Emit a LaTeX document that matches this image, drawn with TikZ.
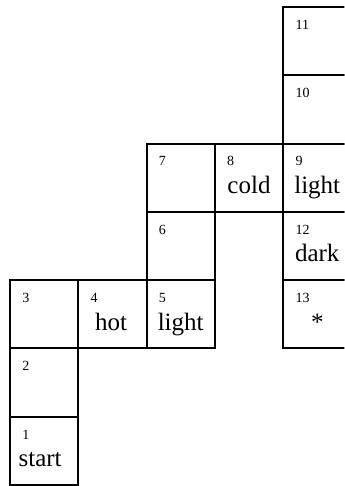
\documentclass[tikz,border=0pt]{standalone}
\usepackage{fontspec}
\setmainfont{Liberation Serif}
\usetikzlibrary{positioning}
\tikzset{
  cell/.style={draw,line width=1pt,minimum size=1.2cm,inner sep=0pt,outer sep=0pt},
  num/.style={font=\fontsize{7}{8}\selectfont,inner sep=0pt,anchor=base west},
  word/.style={font=\fontsize{12.5}{14}\selectfont,inner sep=0pt,anchor=base}
}
\begin{document}
\begin{tikzpicture}[x=1.2cm,y=1.2cm]
\path[use as bounding box,clip] (-0.146,-0.015) rectangle (4.898,7.102);
% cell number / column / row / word / word shift
\foreach \n/\col/\row/\txt/\dx in {1/0/0/start/-2pt, 2/0/1//0pt, 3/0/2//0pt,
    4/1/2/hot/-0.6pt, 5/2/2/light/0pt, 6/2/3//0pt, 7/2/4//0pt,
    8/3/4/cold/0pt, 9/4/4/light/0pt, 10/4/5//0pt, 11/4/6//0pt,
    12/4/3/dark/0pt, 13/4/2/*/0pt}
{
  \node[cell] (c\n) at (\col+.5,\row+.5) {};
  \node[num] (n\n) at ([xshift=6pt,yshift=-11.2pt]c\n.north west) {\n};
  \node[word] (w\n) at ([xshift=\dx,yshift=-25pt]c\n.north) {\txt};
}
\end{tikzpicture}
\end{document}
